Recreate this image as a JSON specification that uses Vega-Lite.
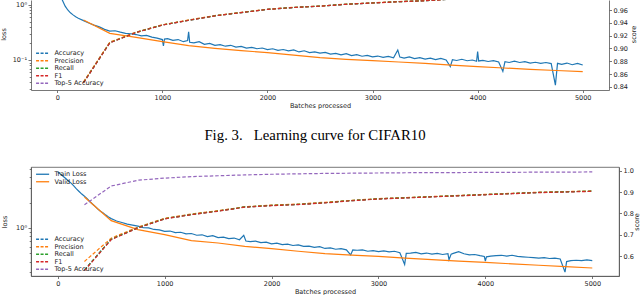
{
  "$schema": "https://vega.github.io/schema/vega-lite/v6.json",
  "padding": 0,
  "config": {
    "font": "DejaVu Sans",
    "view": {"stroke": null},
    "axis": {"labelFont": "DejaVu Sans", "labelFontSize": 6.5, "labelColor": "#222", "titleFont": "DejaVu Sans", "titleFontSize": 6.5, "titleFontWeight": "normal", "titleColor": "#222", "domainColor": "#555", "tickColor": "#555", "domainWidth": 0.8, "tickWidth": 0.8, "grid": false, "tickSize": 2.5, "labelPadding": 1.5},
    "legend": {"labelFont": "DejaVu Sans", "labelFontSize": 6.5, "labelColor": "#222", "title": null, "symbolType": "M-1,0H5", "symbolSize": 19, "symbolStrokeWidth": 1.3, "labelOffset": 13, "rowPadding": 0.5, "padding": 2, "offset": 1.5}
  },
  "datasets": {
    "topLoss": [
      {"step":0,"loss":2.3,"series":"Train Loss"},{"step":25,"loss":1.6,"series":"Train Loss"},{"step":50,"loss":1.2,"series":"Train Loss"},{"step":75,"loss":0.95,"series":"Train Loss"},{"step":100,"loss":0.81,"series":"Train Loss"},{"step":125,"loss":0.72,"series":"Train Loss"},{"step":150,"loss":0.66,"series":"Train Loss"},{"step":175,"loss":0.61,"series":"Train Loss"},{"step":200,"loss":0.575,"series":"Train Loss"},{"step":250,"loss":0.52,"series":"Train Loss"},{"step":300,"loss":0.47,"series":"Train Loss"},{"step":350,"loss":0.43,"series":"Train Loss"},{"step":400,"loss":0.4,"series":"Train Loss"},{"step":450,"loss":0.36,"series":"Train Loss"},{"step":500,"loss":0.335,"series":"Train Loss"},{"step":550,"loss":0.34,"series":"Train Loss"},{"step":600,"loss":0.32,"series":"Train Loss"},{"step":650,"loss":0.305,"series":"Train Loss"},{"step":700,"loss":0.3,"series":"Train Loss"},{"step":750,"loss":0.29,"series":"Train Loss"},{"step":800,"loss":0.275,"series":"Train Loss"},{"step":850,"loss":0.28,"series":"Train Loss"},{"step":900,"loss":0.26,"series":"Train Loss"},{"step":950,"loss":0.25,"series":"Train Loss"},{"step":1000,"loss":0.235,"series":"Train Loss"},{"step":1010,"loss":0.18,"series":"Train Loss"},{"step":1020,"loss":0.24,"series":"Train Loss"},{"step":1050,"loss":0.245,"series":"Train Loss"},{"step":1100,"loss":0.228,"series":"Train Loss"},{"step":1150,"loss":0.235,"series":"Train Loss"},{"step":1200,"loss":0.215,"series":"Train Loss"},{"step":1240,"loss":0.225,"series":"Train Loss"},{"step":1250,"loss":0.325,"series":"Train Loss"},{"step":1260,"loss":0.21,"series":"Train Loss"},{"step":1300,"loss":0.205,"series":"Train Loss"},{"step":1350,"loss":0.215,"series":"Train Loss"},{"step":1400,"loss":0.192,"series":"Train Loss"},{"step":1450,"loss":0.2,"series":"Train Loss"},{"step":1500,"loss":0.185,"series":"Train Loss"},{"step":1550,"loss":0.19,"series":"Train Loss"},{"step":1600,"loss":0.178,"series":"Train Loss"},{"step":1650,"loss":0.185,"series":"Train Loss"},{"step":1700,"loss":0.172,"series":"Train Loss"},{"step":1750,"loss":0.176,"series":"Train Loss"},{"step":1800,"loss":0.165,"series":"Train Loss"},{"step":1850,"loss":0.17,"series":"Train Loss"},{"step":1900,"loss":0.16,"series":"Train Loss"},{"step":1950,"loss":0.165,"series":"Train Loss"},{"step":2000,"loss":0.155,"series":"Train Loss"},{"step":2050,"loss":0.16,"series":"Train Loss"},{"step":2100,"loss":0.15,"series":"Train Loss"},{"step":2150,"loss":0.155,"series":"Train Loss"},{"step":2200,"loss":0.146,"series":"Train Loss"},{"step":2250,"loss":0.152,"series":"Train Loss"},{"step":2300,"loss":0.14,"series":"Train Loss"},{"step":2350,"loss":0.147,"series":"Train Loss"},{"step":2400,"loss":0.136,"series":"Train Loss"},{"step":2450,"loss":0.14,"series":"Train Loss"},{"step":2500,"loss":0.133,"series":"Train Loss"},{"step":2550,"loss":0.137,"series":"Train Loss"},{"step":2600,"loss":0.128,"series":"Train Loss"},{"step":2650,"loss":0.132,"series":"Train Loss"},{"step":2700,"loss":0.124,"series":"Train Loss"},{"step":2750,"loss":0.13,"series":"Train Loss"},{"step":2800,"loss":0.12,"series":"Train Loss"},{"step":2850,"loss":0.125,"series":"Train Loss"},{"step":2900,"loss":0.117,"series":"Train Loss"},{"step":2950,"loss":0.121,"series":"Train Loss"},{"step":3000,"loss":0.114,"series":"Train Loss"},{"step":3050,"loss":0.118,"series":"Train Loss"},{"step":3100,"loss":0.112,"series":"Train Loss"},{"step":3150,"loss":0.116,"series":"Train Loss"},{"step":3200,"loss":0.11,"series":"Train Loss"},{"step":3240,"loss":0.152,"series":"Train Loss"},{"step":3260,"loss":0.113,"series":"Train Loss"},{"step":3300,"loss":0.108,"series":"Train Loss"},{"step":3350,"loss":0.114,"series":"Train Loss"},{"step":3400,"loss":0.106,"series":"Train Loss"},{"step":3450,"loss":0.11,"series":"Train Loss"},{"step":3500,"loss":0.104,"series":"Train Loss"},{"step":3550,"loss":0.108,"series":"Train Loss"},{"step":3600,"loss":0.102,"series":"Train Loss"},{"step":3650,"loss":0.107,"series":"Train Loss"},{"step":3700,"loss":0.1,"series":"Train Loss"},{"step":3740,"loss":0.076,"series":"Train Loss"},{"step":3760,"loss":0.101,"series":"Train Loss"},{"step":3800,"loss":0.098,"series":"Train Loss"},{"step":3850,"loss":0.103,"series":"Train Loss"},{"step":3900,"loss":0.097,"series":"Train Loss"},{"step":3950,"loss":0.1,"series":"Train Loss"},{"step":3990,"loss":0.095,"series":"Train Loss"},{"step":4000,"loss":0.142,"series":"Train Loss"},{"step":4010,"loss":0.096,"series":"Train Loss"},{"step":4050,"loss":0.098,"series":"Train Loss"},{"step":4100,"loss":0.094,"series":"Train Loss"},{"step":4150,"loss":0.097,"series":"Train Loss"},{"step":4200,"loss":0.092,"series":"Train Loss"},{"step":4240,"loss":0.062,"series":"Train Loss"},{"step":4260,"loss":0.093,"series":"Train Loss"},{"step":4300,"loss":0.09,"series":"Train Loss"},{"step":4350,"loss":0.095,"series":"Train Loss"},{"step":4400,"loss":0.09,"series":"Train Loss"},{"step":4450,"loss":0.093,"series":"Train Loss"},{"step":4500,"loss":0.088,"series":"Train Loss"},{"step":4550,"loss":0.091,"series":"Train Loss"},{"step":4600,"loss":0.087,"series":"Train Loss"},{"step":4650,"loss":0.09,"series":"Train Loss"},{"step":4700,"loss":0.086,"series":"Train Loss"},{"step":4740,"loss":0.035,"series":"Train Loss"},{"step":4760,"loss":0.087,"series":"Train Loss"},{"step":4800,"loss":0.083,"series":"Train Loss"},{"step":4850,"loss":0.088,"series":"Train Loss"},{"step":4900,"loss":0.082,"series":"Train Loss"},{"step":4950,"loss":0.087,"series":"Train Loss"},{"step":5000,"loss":0.081,"series":"Train Loss"},
      {"step":250,"loss":0.534,"series":"Valid Loss"},{"step":500,"loss":0.305,"series":"Valid Loss"},{"step":750,"loss":0.258,"series":"Valid Loss"},{"step":1000,"loss":0.215,"series":"Valid Loss"},{"step":1250,"loss":0.182,"series":"Valid Loss"},{"step":1500,"loss":0.163,"series":"Valid Loss"},{"step":1750,"loss":0.148,"series":"Valid Loss"},{"step":2000,"loss":0.136,"series":"Valid Loss"},{"step":2250,"loss":0.123,"series":"Valid Loss"},{"step":2500,"loss":0.11,"series":"Valid Loss"},{"step":2750,"loss":0.103,"series":"Valid Loss"},{"step":3000,"loss":0.097,"series":"Valid Loss"},{"step":3250,"loss":0.092,"series":"Valid Loss"},{"step":3500,"loss":0.087,"series":"Valid Loss"},{"step":3750,"loss":0.081,"series":"Valid Loss"},{"step":4000,"loss":0.0757,"series":"Valid Loss"},{"step":4250,"loss":0.0715,"series":"Valid Loss"},{"step":4500,"loss":0.0678,"series":"Valid Loss"},{"step":4750,"loss":0.0645,"series":"Valid Loss"},{"step":5000,"loss":0.0613,"series":"Valid Loss"}
    ],
    "topScore": [
      {"step":250,"score":0.847,"series":"Accuracy"},{"step":500,"score":0.909,"series":"Accuracy"},{"step":750,"score":0.925,"series":"Accuracy"},{"step":1000,"score":0.9366,"series":"Accuracy"},{"step":1250,"score":0.944,"series":"Accuracy"},{"step":1500,"score":0.951,"series":"Accuracy"},{"step":1750,"score":0.956,"series":"Accuracy"},{"step":2000,"score":0.961,"series":"Accuracy"},{"step":2250,"score":0.964,"series":"Accuracy"},{"step":2500,"score":0.966,"series":"Accuracy"},{"step":2750,"score":0.969,"series":"Accuracy"},{"step":3000,"score":0.971,"series":"Accuracy"},{"step":3250,"score":0.973,"series":"Accuracy"},{"step":3500,"score":0.9745,"series":"Accuracy"},{"step":3750,"score":0.977,"series":"Accuracy"},{"step":4000,"score":0.978,"series":"Accuracy"},{"step":4250,"score":0.979,"series":"Accuracy"},{"step":4500,"score":0.98,"series":"Accuracy"},{"step":4750,"score":0.981,"series":"Accuracy"},{"step":5000,"score":0.982,"series":"Accuracy"},
      {"step":250,"score":0.848,"series":"Precision"},{"step":500,"score":0.91,"series":"Precision"},{"step":750,"score":0.9255,"series":"Precision"},{"step":1000,"score":0.937,"series":"Precision"},{"step":1250,"score":0.9445,"series":"Precision"},{"step":1500,"score":0.9513,"series":"Precision"},{"step":1750,"score":0.9563,"series":"Precision"},{"step":2000,"score":0.9612,"series":"Precision"},{"step":2250,"score":0.9642,"series":"Precision"},{"step":2500,"score":0.9662,"series":"Precision"},{"step":2750,"score":0.9692,"series":"Precision"},{"step":3000,"score":0.9712,"series":"Precision"},{"step":3250,"score":0.9732,"series":"Precision"},{"step":3500,"score":0.9747,"series":"Precision"},{"step":3750,"score":0.9772,"series":"Precision"},{"step":4000,"score":0.9782,"series":"Precision"},{"step":4250,"score":0.9792,"series":"Precision"},{"step":4500,"score":0.9802,"series":"Precision"},{"step":4750,"score":0.9812,"series":"Precision"},{"step":5000,"score":0.9822,"series":"Precision"},
      {"step":250,"score":0.847,"series":"Recall"},{"step":500,"score":0.909,"series":"Recall"},{"step":750,"score":0.925,"series":"Recall"},{"step":1000,"score":0.9366,"series":"Recall"},{"step":1250,"score":0.944,"series":"Recall"},{"step":1500,"score":0.951,"series":"Recall"},{"step":1750,"score":0.956,"series":"Recall"},{"step":2000,"score":0.961,"series":"Recall"},{"step":2250,"score":0.964,"series":"Recall"},{"step":2500,"score":0.966,"series":"Recall"},{"step":2750,"score":0.969,"series":"Recall"},{"step":3000,"score":0.971,"series":"Recall"},{"step":3250,"score":0.973,"series":"Recall"},{"step":3500,"score":0.9745,"series":"Recall"},{"step":3750,"score":0.977,"series":"Recall"},{"step":4000,"score":0.978,"series":"Recall"},{"step":4250,"score":0.979,"series":"Recall"},{"step":4500,"score":0.98,"series":"Recall"},{"step":4750,"score":0.981,"series":"Recall"},{"step":5000,"score":0.982,"series":"Recall"},
      {"step":250,"score":0.8465,"series":"F1"},{"step":500,"score":0.9088,"series":"F1"},{"step":750,"score":0.9249,"series":"F1"},{"step":1000,"score":0.9365,"series":"F1"},{"step":1250,"score":0.9439,"series":"F1"},{"step":1500,"score":0.9509,"series":"F1"},{"step":1750,"score":0.9559,"series":"F1"},{"step":2000,"score":0.9609,"series":"F1"},{"step":2250,"score":0.9639,"series":"F1"},{"step":2500,"score":0.9659,"series":"F1"},{"step":2750,"score":0.9689,"series":"F1"},{"step":3000,"score":0.9709,"series":"F1"},{"step":3250,"score":0.9729,"series":"F1"},{"step":3500,"score":0.9744,"series":"F1"},{"step":3750,"score":0.9769,"series":"F1"},{"step":4000,"score":0.9779,"series":"F1"},{"step":4250,"score":0.9789,"series":"F1"},{"step":4500,"score":0.9799,"series":"F1"},{"step":4750,"score":0.9809,"series":"F1"},{"step":5000,"score":0.9819,"series":"F1"},
      {"step":250,"score":0.989,"series":"Top-5 Accuracy"},{"step":500,"score":0.995,"series":"Top-5 Accuracy"},{"step":1000,"score":0.997,"series":"Top-5 Accuracy"},{"step":2000,"score":0.998,"series":"Top-5 Accuracy"},{"step":3000,"score":0.999,"series":"Top-5 Accuracy"},{"step":5000,"score":0.9994,"series":"Top-5 Accuracy"}
    ],
    "botLoss": [
      {"step":0,"loss":4.6,"series":"Train Loss"},{"step":25,"loss":4.35,"series":"Train Loss"},{"step":50,"loss":4.1,"series":"Train Loss"},{"step":75,"loss":3.85,"series":"Train Loss"},{"step":100,"loss":3.6,"series":"Train Loss"},{"step":125,"loss":3.4,"series":"Train Loss"},{"step":150,"loss":3.15,"series":"Train Loss"},{"step":175,"loss":2.9,"series":"Train Loss"},{"step":200,"loss":2.7,"series":"Train Loss"},{"step":225,"loss":2.52,"series":"Train Loss"},{"step":250,"loss":2.38,"series":"Train Loss"},{"step":275,"loss":2.22,"series":"Train Loss"},{"step":300,"loss":2.06,"series":"Train Loss"},{"step":325,"loss":1.92,"series":"Train Loss"},{"step":350,"loss":1.8,"series":"Train Loss"},{"step":375,"loss":1.68,"series":"Train Loss"},{"step":400,"loss":1.58,"series":"Train Loss"},{"step":425,"loss":1.5,"series":"Train Loss"},{"step":450,"loss":1.42,"series":"Train Loss"},{"step":475,"loss":1.35,"series":"Train Loss"},{"step":500,"loss":1.29,"series":"Train Loss"},{"step":525,"loss":1.25,"series":"Train Loss"},{"step":550,"loss":1.21,"series":"Train Loss"},{"step":600,"loss":1.16,"series":"Train Loss"},{"step":650,"loss":1.11,"series":"Train Loss"},{"step":700,"loss":1.08,"series":"Train Loss"},{"step":750,"loss":1.05,"series":"Train Loss"},{"step":800,"loss":1.01,"series":"Train Loss"},{"step":850,"loss":1.0,"series":"Train Loss"},{"step":900,"loss":0.96,"series":"Train Loss"},{"step":950,"loss":0.95,"series":"Train Loss"},{"step":1000,"loss":0.91,"series":"Train Loss"},{"step":1050,"loss":0.92,"series":"Train Loss"},{"step":1100,"loss":0.88,"series":"Train Loss"},{"step":1150,"loss":0.89,"series":"Train Loss"},{"step":1200,"loss":0.85,"series":"Train Loss"},{"step":1250,"loss":0.86,"series":"Train Loss"},{"step":1300,"loss":0.82,"series":"Train Loss"},{"step":1350,"loss":0.83,"series":"Train Loss"},{"step":1400,"loss":0.79,"series":"Train Loss"},{"step":1450,"loss":0.81,"series":"Train Loss"},{"step":1500,"loss":0.77,"series":"Train Loss"},{"step":1550,"loss":0.78,"series":"Train Loss"},{"step":1600,"loss":0.75,"series":"Train Loss"},{"step":1650,"loss":0.76,"series":"Train Loss"},{"step":1700,"loss":0.725,"series":"Train Loss"},{"step":1740,"loss":0.82,"series":"Train Loss"},{"step":1760,"loss":0.7,"series":"Train Loss"},{"step":1800,"loss":0.69,"series":"Train Loss"},{"step":1850,"loss":0.7,"series":"Train Loss"},{"step":1900,"loss":0.67,"series":"Train Loss"},{"step":1950,"loss":0.68,"series":"Train Loss"},{"step":2000,"loss":0.65,"series":"Train Loss"},{"step":2050,"loss":0.66,"series":"Train Loss"},{"step":2100,"loss":0.635,"series":"Train Loss"},{"step":2150,"loss":0.645,"series":"Train Loss"},{"step":2200,"loss":0.62,"series":"Train Loss"},{"step":2250,"loss":0.63,"series":"Train Loss"},{"step":2300,"loss":0.605,"series":"Train Loss"},{"step":2350,"loss":0.61,"series":"Train Loss"},{"step":2400,"loss":0.59,"series":"Train Loss"},{"step":2450,"loss":0.6,"series":"Train Loss"},{"step":2500,"loss":0.572,"series":"Train Loss"},{"step":2550,"loss":0.58,"series":"Train Loss"},{"step":2600,"loss":0.56,"series":"Train Loss"},{"step":2650,"loss":0.57,"series":"Train Loss"},{"step":2700,"loss":0.55,"series":"Train Loss"},{"step":2740,"loss":0.48,"series":"Train Loss"},{"step":2760,"loss":0.55,"series":"Train Loss"},{"step":2800,"loss":0.545,"series":"Train Loss"},{"step":2850,"loss":0.55,"series":"Train Loss"},{"step":2900,"loss":0.53,"series":"Train Loss"},{"step":2950,"loss":0.54,"series":"Train Loss"},{"step":3000,"loss":0.525,"series":"Train Loss"},{"step":3050,"loss":0.535,"series":"Train Loss"},{"step":3100,"loss":0.52,"series":"Train Loss"},{"step":3150,"loss":0.53,"series":"Train Loss"},{"step":3200,"loss":0.51,"series":"Train Loss"},{"step":3245,"loss":0.37,"series":"Train Loss"},{"step":3260,"loss":0.5,"series":"Train Loss"},{"step":3300,"loss":0.505,"series":"Train Loss"},{"step":3350,"loss":0.515,"series":"Train Loss"},{"step":3400,"loss":0.495,"series":"Train Loss"},{"step":3450,"loss":0.505,"series":"Train Loss"},{"step":3500,"loss":0.49,"series":"Train Loss"},{"step":3550,"loss":0.5,"series":"Train Loss"},{"step":3600,"loss":0.485,"series":"Train Loss"},{"step":3650,"loss":0.495,"series":"Train Loss"},{"step":3660,"loss":0.42,"series":"Train Loss"},{"step":3680,"loss":0.49,"series":"Train Loss"},{"step":3700,"loss":0.5,"series":"Train Loss"},{"step":3750,"loss":0.525,"series":"Train Loss"},{"step":3800,"loss":0.495,"series":"Train Loss"},{"step":3850,"loss":0.48,"series":"Train Loss"},{"step":3900,"loss":0.485,"series":"Train Loss"},{"step":3950,"loss":0.47,"series":"Train Loss"},{"step":3990,"loss":0.46,"series":"Train Loss"},{"step":4000,"loss":0.405,"series":"Train Loss"},{"step":4010,"loss":0.455,"series":"Train Loss"},{"step":4050,"loss":0.465,"series":"Train Loss"},{"step":4100,"loss":0.47,"series":"Train Loss"},{"step":4150,"loss":0.475,"series":"Train Loss"},{"step":4200,"loss":0.465,"series":"Train Loss"},{"step":4250,"loss":0.475,"series":"Train Loss"},{"step":4300,"loss":0.46,"series":"Train Loss"},{"step":4350,"loss":0.455,"series":"Train Loss"},{"step":4400,"loss":0.45,"series":"Train Loss"},{"step":4450,"loss":0.445,"series":"Train Loss"},{"step":4500,"loss":0.44,"series":"Train Loss"},{"step":4550,"loss":0.445,"series":"Train Loss"},{"step":4600,"loss":0.435,"series":"Train Loss"},{"step":4650,"loss":0.44,"series":"Train Loss"},{"step":4700,"loss":0.43,"series":"Train Loss"},{"step":4745,"loss":0.3,"series":"Train Loss"},{"step":4760,"loss":0.4,"series":"Train Loss"},{"step":4800,"loss":0.41,"series":"Train Loss"},{"step":4850,"loss":0.415,"series":"Train Loss"},{"step":4900,"loss":0.41,"series":"Train Loss"},{"step":4950,"loss":0.42,"series":"Train Loss"},{"step":5000,"loss":0.41,"series":"Train Loss"},
      {"step":250,"loss":2.33,"series":"Valid Loss"},{"step":500,"loss":1.22,"series":"Valid Loss"},{"step":750,"loss":0.955,"series":"Valid Loss"},{"step":1000,"loss":0.833,"series":"Valid Loss"},{"step":1250,"loss":0.707,"series":"Valid Loss"},{"step":1500,"loss":0.664,"series":"Valid Loss"},{"step":1750,"loss":0.607,"series":"Valid Loss"},{"step":2000,"loss":0.569,"series":"Valid Loss"},{"step":2250,"loss":0.53,"series":"Valid Loss"},{"step":2500,"loss":0.496,"series":"Valid Loss"},{"step":2750,"loss":0.478,"series":"Valid Loss"},{"step":3000,"loss":0.462,"series":"Valid Loss"},{"step":3250,"loss":0.44,"series":"Valid Loss"},{"step":3500,"loss":0.422,"series":"Valid Loss"},{"step":3750,"loss":0.406,"series":"Valid Loss"},{"step":4000,"loss":0.392,"series":"Valid Loss"},{"step":4250,"loss":0.376,"series":"Valid Loss"},{"step":4500,"loss":0.362,"series":"Valid Loss"},{"step":4750,"loss":0.349,"series":"Valid Loss"},{"step":5000,"loss":0.336,"series":"Valid Loss"}
    ],
    "botScore": [
      {"step":250,"score":0.535,"series":"Accuracy"},{"step":500,"score":0.679,"series":"Accuracy"},{"step":750,"score":0.733,"series":"Accuracy"},{"step":1000,"score":0.775,"series":"Accuracy"},{"step":1250,"score":0.795,"series":"Accuracy"},{"step":1500,"score":0.811,"series":"Accuracy"},{"step":1750,"score":0.83,"series":"Accuracy"},{"step":2000,"score":0.837,"series":"Accuracy"},{"step":2250,"score":0.842,"series":"Accuracy"},{"step":2500,"score":0.85,"series":"Accuracy"},{"step":2750,"score":0.86,"series":"Accuracy"},{"step":3000,"score":0.868,"series":"Accuracy"},{"step":3250,"score":0.873,"series":"Accuracy"},{"step":3500,"score":0.878,"series":"Accuracy"},{"step":3750,"score":0.883,"series":"Accuracy"},{"step":4000,"score":0.888,"series":"Accuracy"},{"step":4250,"score":0.893,"series":"Accuracy"},{"step":4500,"score":0.898,"series":"Accuracy"},{"step":4750,"score":0.901,"series":"Accuracy"},{"step":5000,"score":0.904,"series":"Accuracy"},
      {"step":250,"score":0.575,"series":"Precision"},{"step":500,"score":0.684,"series":"Precision"},{"step":750,"score":0.736,"series":"Precision"},{"step":1000,"score":0.777,"series":"Precision"},{"step":1250,"score":0.797,"series":"Precision"},{"step":1500,"score":0.813,"series":"Precision"},{"step":1750,"score":0.831,"series":"Precision"},{"step":2000,"score":0.839,"series":"Precision"},{"step":2250,"score":0.844,"series":"Precision"},{"step":2500,"score":0.852,"series":"Precision"},{"step":2750,"score":0.861,"series":"Precision"},{"step":3000,"score":0.869,"series":"Precision"},{"step":3250,"score":0.874,"series":"Precision"},{"step":3500,"score":0.879,"series":"Precision"},{"step":3750,"score":0.884,"series":"Precision"},{"step":4000,"score":0.889,"series":"Precision"},{"step":4250,"score":0.894,"series":"Precision"},{"step":4500,"score":0.899,"series":"Precision"},{"step":4750,"score":0.902,"series":"Precision"},{"step":5000,"score":0.905,"series":"Precision"},
      {"step":250,"score":0.535,"series":"Recall"},{"step":500,"score":0.679,"series":"Recall"},{"step":750,"score":0.733,"series":"Recall"},{"step":1000,"score":0.775,"series":"Recall"},{"step":1250,"score":0.795,"series":"Recall"},{"step":1500,"score":0.811,"series":"Recall"},{"step":1750,"score":0.83,"series":"Recall"},{"step":2000,"score":0.837,"series":"Recall"},{"step":2250,"score":0.842,"series":"Recall"},{"step":2500,"score":0.85,"series":"Recall"},{"step":2750,"score":0.86,"series":"Recall"},{"step":3000,"score":0.868,"series":"Recall"},{"step":3250,"score":0.873,"series":"Recall"},{"step":3500,"score":0.878,"series":"Recall"},{"step":3750,"score":0.883,"series":"Recall"},{"step":4000,"score":0.888,"series":"Recall"},{"step":4250,"score":0.893,"series":"Recall"},{"step":4500,"score":0.898,"series":"Recall"},{"step":4750,"score":0.901,"series":"Recall"},{"step":5000,"score":0.904,"series":"Recall"},
      {"step":250,"score":0.532,"series":"F1"},{"step":500,"score":0.677,"series":"F1"},{"step":750,"score":0.732,"series":"F1"},{"step":1000,"score":0.774,"series":"F1"},{"step":1250,"score":0.794,"series":"F1"},{"step":1500,"score":0.81,"series":"F1"},{"step":1750,"score":0.829,"series":"F1"},{"step":2000,"score":0.836,"series":"F1"},{"step":2250,"score":0.841,"series":"F1"},{"step":2500,"score":0.849,"series":"F1"},{"step":2750,"score":0.859,"series":"F1"},{"step":3000,"score":0.867,"series":"F1"},{"step":3250,"score":0.872,"series":"F1"},{"step":3500,"score":0.877,"series":"F1"},{"step":3750,"score":0.882,"series":"F1"},{"step":4000,"score":0.887,"series":"F1"},{"step":4250,"score":0.892,"series":"F1"},{"step":4500,"score":0.897,"series":"F1"},{"step":4750,"score":0.9,"series":"F1"},{"step":5000,"score":0.903,"series":"F1"},
      {"step":250,"score":0.84,"series":"Top-5 Accuracy"},{"step":500,"score":0.928,"series":"Top-5 Accuracy"},{"step":750,"score":0.955,"series":"Top-5 Accuracy"},{"step":1000,"score":0.965,"series":"Top-5 Accuracy"},{"step":1250,"score":0.972,"series":"Top-5 Accuracy"},{"step":1500,"score":0.976,"series":"Top-5 Accuracy"},{"step":1750,"score":0.98,"series":"Top-5 Accuracy"},{"step":2000,"score":0.983,"series":"Top-5 Accuracy"},{"step":2250,"score":0.985,"series":"Top-5 Accuracy"},{"step":2500,"score":0.987,"series":"Top-5 Accuracy"},{"step":2750,"score":0.988,"series":"Top-5 Accuracy"},{"step":3000,"score":0.989,"series":"Top-5 Accuracy"},{"step":3250,"score":0.99,"series":"Top-5 Accuracy"},{"step":3500,"score":0.991,"series":"Top-5 Accuracy"},{"step":3750,"score":0.991,"series":"Top-5 Accuracy"},{"step":4000,"score":0.992,"series":"Top-5 Accuracy"},{"step":4250,"score":0.992,"series":"Top-5 Accuracy"},{"step":4500,"score":0.993,"series":"Top-5 Accuracy"},{"step":4750,"score":0.993,"series":"Top-5 Accuracy"},{"step":5000,"score":0.994,"series":"Top-5 Accuracy"}
    ]
  },
  "concat": [
    {
      "width": 578,
      "height": 90,
      "view": {"stroke": null},
      "layer": [
        {
          "data": {"name": "topLoss"},
          "mark": {"type": "line", "clip": true, "strokeWidth": 1.2},
          "encoding": {
            "x": {"field": "step", "type": "quantitative", "scale": {"domain": [-250, 5250], "nice": false, "zero": false}, "axis": {"values": [0, 1000, 2000, 3000, 4000, 5000], "format": "d", "title": "Batches processed", "titlePadding": 1.5}},
            "y": {"field": "loss", "type": "quantitative", "scale": {"type": "log", "domain": [0.0285, 1.23], "nice": false}, "axis": {"orient": "left", "title": "loss", "titleY": 34, "titlePadding": 6, "values": [0.03, 0.04, 0.05, 0.06, 0.07, 0.08, 0.09, 0.1, 0.2, 0.3, 0.4, 0.5, 0.6, 0.7, 0.8, 0.9, 1], "labelExpr": "datum.value == 1 ? '10\u2070' : (datum.value == 0.1 ? '10\u207b\u00b9' : '')", "labelOverlap": false, "tickSize": {"condition": {"test": "datum.value == 1 || datum.value == 0.1", "value": 3}, "value": 1.8}}},
            "color": {"field": "series", "type": "nominal", "scale": {"domain": ["Train Loss", "Valid Loss"], "range": ["#1f77b4", "#ff7f0e"]}, "legend": null}
          }
        },
        {
          "data": {"name": "topScore"},
          "mark": {"type": "line", "clip": true, "strokeWidth": 1.2, "strokeDash": [3.5, 2]},
          "encoding": {
            "x": {"field": "step", "type": "quantitative"},
            "y": {"field": "score", "type": "quantitative", "scale": {"domain": [0.8353, 0.9756], "nice": false, "zero": false}, "axis": {"orient": "right", "title": "score", "titleAngle": 270, "titleBaseline": "top", "titleY": 34, "titlePadding": 3, "values": [0.84, 0.86, 0.88, 0.9, 0.92, 0.94, 0.96], "format": ".2f"}},
            "color": {"field": "series", "type": "nominal", "scale": {"domain": ["Accuracy", "Precision", "Recall", "F1", "Top-5 Accuracy"], "range": ["#1f77b4", "#ff7f0e", "#2ca02c", "#d62728", "#9467bd"]}, "legend": {"orient": "bottom-left", "symbolDash": [3, 1.5]}}
          }
        }
      ],
      "resolve": {"scale": {"y": "independent", "color": "independent"}}
    },
    {
      "width": 588,
      "height": 109,
      "view": {"stroke": "#555", "strokeWidth": 0.8},
      "title": {"text": "Fig. 3.\u00a0\u00a0 Learning curve for CIFAR10", "font": "Liberation Serif", "fontSize": 14.8, "fontWeight": "normal", "color": "#000", "anchor": "middle", "baseline": "alphabetic", "offset": 11, "dx": -10},
      "layer": [
        {
          "data": {"name": "botLoss"},
          "mark": {"type": "line", "clip": true, "strokeWidth": 1.2},
          "encoding": {
            "x": {"field": "step", "type": "quantitative", "scale": {"domain": [-250, 5250], "nice": false, "zero": false}, "axis": {"values": [0, 1000, 2000, 3000, 4000, 5000], "format": "d", "title": "Batches processed", "titlePadding": 1.5}},
            "y": {"field": "loss", "type": "quantitative", "scale": {"type": "log", "domain": [0.27, 5.27], "nice": false}, "axis": {"orient": "left", "title": "loss", "titlePadding": 8, "values": [0.3, 0.4, 0.5, 0.6, 0.7, 0.8, 0.9, 1, 2, 3, 4, 5], "labelExpr": "datum.value == 1 ? '10\u2070' : ''", "labelOverlap": false, "tickSize": {"condition": {"test": "datum.value == 1", "value": 3}, "value": 1.8}}},
            "color": {"field": "series", "type": "nominal", "scale": {"domain": ["Train Loss", "Valid Loss"], "range": ["#1f77b4", "#ff7f0e"]}, "legend": {"orient": "top-left"}}
          }
        },
        {
          "data": {"name": "botScore"},
          "mark": {"type": "line", "clip": true, "strokeWidth": 1.2, "strokeDash": [3.5, 2]},
          "encoding": {
            "x": {"field": "step", "type": "quantitative"},
            "y": {"field": "score", "type": "quantitative", "scale": {"domain": [0.507, 1.017], "nice": false, "zero": false}, "axis": {"orient": "right", "title": "score", "titleAngle": 270, "titleBaseline": "top", "titlePadding": 0.5, "values": [0.6, 0.7, 0.8, 0.9, 1.0], "format": ".1f"}},
            "color": {"field": "series", "type": "nominal", "scale": {"domain": ["Accuracy", "Precision", "Recall", "F1", "Top-5 Accuracy"], "range": ["#1f77b4", "#ff7f0e", "#2ca02c", "#d62728", "#9467bd"]}, "legend": {"orient": "bottom-left", "symbolDash": [3, 1.5]}}
          }
        }
      ],
      "resolve": {"scale": {"y": "independent", "color": "independent"}}
    }
  ],
  "columns": 1,
  "align": "none",
  "spacing": 18
}
